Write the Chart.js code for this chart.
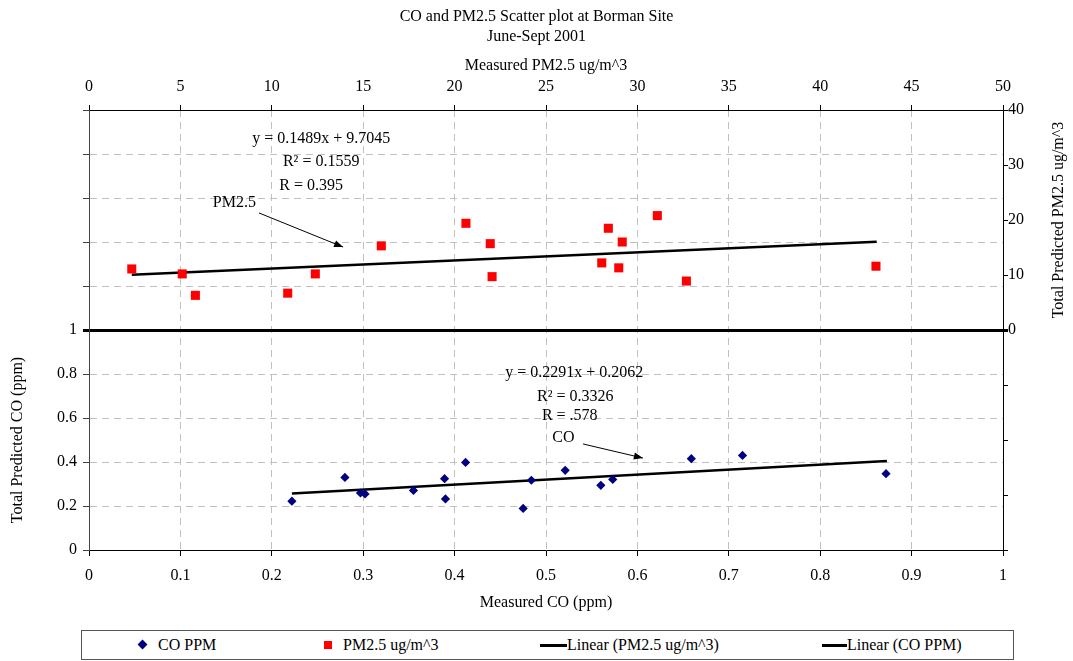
<!DOCTYPE html>
<html>
<head>
<meta charset="utf-8">
<script src="https://cdn.jsdelivr.net/npm/chart.js@4.4.0/dist/chart.umd.min.js"></script>
<style>
  html, body { margin: 0; padding: 0; background: #fff; }
  #wrap { position: relative; width: 1073px; height: 661px; }
  #legend { position: absolute; left: 81px; top: 630px; width: 933px; height: 30px;
            border: 1px solid #555; box-sizing: border-box; background: #fff;
            font: 16px "Liberation Serif", "Times New Roman", serif; color: #000; }
  #legend span { position: absolute; white-space: nowrap; }
  #legend .txt { top: 0; line-height: 28px; }
</style>
</head>
<body>
<div id="wrap">
  <canvas id="scatterChart" width="1073" height="661"></canvas>
  <div id="legend"></div>
</div>
<script>
// CO (ppm): measured vs total predicted
const coX = [0.222, 0.280, 0.297, 0.302, 0.355, 0.389, 0.390, 0.412, 0.475, 0.484, 0.521, 0.560, 0.573, 0.659, 0.715, 0.872];
const coY = [0.222, 0.330, 0.259, 0.255, 0.271, 0.324, 0.232, 0.398, 0.189, 0.317, 0.362, 0.294, 0.321, 0.415, 0.430, 0.347];

// PM2.5 (ug/m^3): measured vs total predicted
const pmX = [2.34, 5.10, 5.82, 10.87, 12.38, 15.99, 20.62, 21.95, 22.05, 28.05, 28.41, 28.98, 29.17, 31.09, 32.68, 43.05];
const pmY = [11.1, 10.2, 6.3, 6.7, 10.2, 15.3, 19.4, 15.7, 9.7, 12.2, 18.5, 11.3, 16.0, 20.8, 8.9, 11.6];

// trend line end points as drawn
const pmTrendX = [2.34, 43.09];
const pmTrendY = [10.05, 16.05];
const coTrendX = [0.222, 0.873];
const coTrendY = [0.257, 0.405];

const seriesLabels = ['CO PPM', 'PM2.5 ug/m^3', 'Linear (PM2.5 ug/m^3)', 'Linear (CO PPM)'];
const chartTitle = ['CO and PM2.5 Scatter plot at Borman Site', 'June-Sept 2001'];

// text notes, placed in CO axis units (bottom x, left y)
const noteText = ['y = 0.1489x + 9.7045', 'R\u00b2 = 0.1559', 'R = 0.395', 'PM2.5',
                  'y = 0.2291x + 0.2062', 'R\u00b2 = 0.3326', 'R = .578', 'CO'];
const noteX = [0.254, 0.254, 0.243, 0.159, 0.531, 0.532, 0.526, 0.519];
const noteY = [1.868, 1.764, 1.655, 1.577, 0.805, 0.696, 0.609, 0.509];
// arrows: from -> to
const arrowFrom = [[0.186, 1.532], [0.5405, 0.482]];
const arrowTo = [[0.278, 1.377], [0.606, 0.418]];

const SERIF = '"Liberation Serif", "Times New Roman", serif';
Chart.defaults.font.family = SERIF;
Chart.defaults.font.size = 16;
Chart.defaults.color = '#000';

const toPoints = (xs, ys) => xs.map((x, i) => ({ x: x, y: ys[i] }));
const isVal = (c, v) => c.tick && Math.abs(c.tick.value - v) < 1e-6;
const GRID = '#c0c0c0';
const CLEAR = 'rgba(0,0,0,0)';

function drawArrow(ctx, x0, y0, x1, y1) {
    ctx.beginPath();
    ctx.moveTo(x0, y0);
    ctx.lineTo(x1, y1);
    ctx.stroke();
    const a = Math.atan2(y1 - y0, x1 - x0), L = 9, W = 3.5;
    ctx.beginPath();
    ctx.moveTo(x1, y1);
    ctx.lineTo(x1 - L * Math.cos(a) + W * Math.sin(a), y1 - L * Math.sin(a) - W * Math.cos(a));
    ctx.lineTo(x1 - L * Math.cos(a) - W * Math.sin(a), y1 - L * Math.sin(a) + W * Math.cos(a));
    ctx.closePath();
    ctx.fill();
}

// equation notes, arrows and the two half-height side titles
const notesPlugin = {
    id: 'notes',
    afterDatasetsDraw(chart) {
        const ctx = chart.ctx;
        const sx = chart.scales.x, sy = chart.scales.y, sy2 = chart.scales.y2;
        ctx.save();
        ctx.font = '16px ' + SERIF;
        ctx.fillStyle = '#000';
        ctx.strokeStyle = '#000';
        ctx.lineWidth = 1;
        ctx.textAlign = 'center';
        ctx.textBaseline = 'middle';
        noteText.forEach((t, i) => {
            ctx.fillText(t, sx.getPixelForValue(noteX[i]), sy.getPixelForValue(noteY[i]));
        });
        arrowFrom.forEach((f, i) => {
            drawArrow(ctx, sx.getPixelForValue(f[0]), sy.getPixelForValue(f[1]),
                      sx.getPixelForValue(arrowTo[i][0]), sy.getPixelForValue(arrowTo[i][1]));
        });
        // side titles
        ctx.translate(18, sy.getPixelForValue(0.5));
        ctx.rotate(-Math.PI / 2);
        ctx.fillText('Total Predicted CO (ppm)', 0, 0);
        ctx.setTransform(1, 0, 0, 1, 0, 0);
        ctx.translate(1059, sy2.getPixelForValue(20));
        ctx.rotate(-Math.PI / 2);
        ctx.fillText('Total Predicted PM2.5 ug/m^3', 0, 0);
        ctx.restore();
    }
};

const ctx = document.getElementById('scatterChart').getContext('2d');
const scatterChart = new Chart(ctx, {
    type: 'scatter',
    data: {
        datasets: [
            {
                label: seriesLabels[0],
                data: toPoints(coX, coY),
                xAxisID: 'x', yAxisID: 'y',
                pointStyle: 'rectRot', pointRadius: 4.6, pointBorderWidth: 0,
                backgroundColor: '#000080', borderColor: '#000080'
            },
            {
                label: seriesLabels[1],
                data: toPoints(pmX, pmY),
                xAxisID: 'x2', yAxisID: 'y2',
                pointStyle: 'rect', pointRadius: 6.4, pointBorderWidth: 0,
                backgroundColor: '#ff0000', borderColor: '#ff0000'
            },
            {
                label: seriesLabels[2],
                data: toPoints(pmTrendX, pmTrendY),
                xAxisID: 'x2', yAxisID: 'y2',
                showLine: true, pointRadius: 0, borderColor: '#000', borderWidth: 2.5
            },
            {
                label: seriesLabels[3],
                data: toPoints(coTrendX, coTrendY),
                xAxisID: 'x', yAxisID: 'y',
                showLine: true, pointRadius: 0, borderColor: '#000', borderWidth: 2.5
            }
        ]
    },
    options: {
        responsive: false,
        animation: false,
        layout: { padding: { left: 0, right: 0, top: 0, bottom: 41 } },
        plugins: {
            legend: { display: false },
            tooltip: { enabled: false },
            title: {
                display: true,
                text: chartTitle,
                font: { size: 16, weight: 'normal', lineHeight: 1.25 },
                padding: { top: 7, bottom: 0 }
            }
        },
        scales: {
            x: {
                type: 'linear', position: 'bottom', min: 0, max: 1,
                ticks: { stepSize: 0.1, padding: 10, callback: v => String(Math.round(v * 10) / 10) },
                grid: {
                    color: c => (isVal(c, 0) || isVal(c, 1)) ? CLEAR : GRID,
                    tickLength: 6, tickColor: '#000'
                },
                border: { color: '#000', dash: [7, 5] },
                title: { display: true, text: 'Measured CO (ppm)', padding: { top: 0, bottom: 8 } },
                afterFit: s => { s.height = 70; }
            },
            x2: {
                type: 'linear', position: 'top', min: 0, max: 50,
                ticks: { stepSize: 5, padding: 9 },
                grid: { drawOnChartArea: false, tickLength: 5, tickColor: '#000' },
                border: { color: '#000' },
                title: { display: true, text: 'Measured PM2.5 ug/m^3', padding: { top: 9, bottom: 0 } },
                afterFit: s => { s.height = 63; }
            },
            y: {
                type: 'linear', position: 'left', min: 0, max: 2,
                ticks: { stepSize: 0.2, padding: 6, callback: v => v > 1.001 ? '' : String(Math.round(v * 10) / 10) },
                grid: {
                    color: c => isVal(c, 1) ? '#000' : ((isVal(c, 0) || isVal(c, 2)) ? CLEAR : GRID),
                    lineWidth: c => isVal(c, 1) ? 3 : 1,
                    tickLength: 6,
                    tickColor: c => isVal(c, 1) ? '#000' : '#444',
                    tickWidth: c => isVal(c, 1) ? 3 : 1
                },
                border: { color: '#444', dash: c => isVal(c, 1) ? [] : [7, 5] },
                afterFit: s => { s.width = 89; }
            },
            y2: {
                type: 'linear', position: 'right', min: -40, max: 40,
                ticks: { stepSize: 10, padding: 0, callback: v => v < 0 ? '' : v },
                grid: {
                    drawOnChartArea: false, tickLength: 5, tickColor: '#000',
                    tickWidth: c => isVal(c, 0) ? 3 : 1
                },
                border: { color: '#000' },
                afterFit: s => { s.width = 70; }
            }
        }
    },
    plugins: [notesPlugin]
});

// boxed legend below the plot
const legendMarks = [
    'left:57px;top:10px;width:7px;height:7px;background:#000080;transform:rotate(45deg);',
    'left:242px;top:10px;width:8px;height:8px;background:#ff0000;',
    'left:458px;top:13px;width:27px;height:2.5px;background:#000;',
    'left:740px;top:13px;width:25px;height:2.5px;background:#000;'
];
const legendText = [76, 261, 485, 765];
const legend = document.getElementById('legend');
scatterChart.data.datasets.forEach((ds, i) => {
    const mark = document.createElement('span');
    mark.style.cssText = legendMarks[i];
    legend.appendChild(mark);
    const txt = document.createElement('span');
    txt.className = 'txt';
    txt.style.left = legendText[i] + 'px';
    txt.textContent = ds.label;
    legend.appendChild(txt);
});
</script>
</body>
</html>
